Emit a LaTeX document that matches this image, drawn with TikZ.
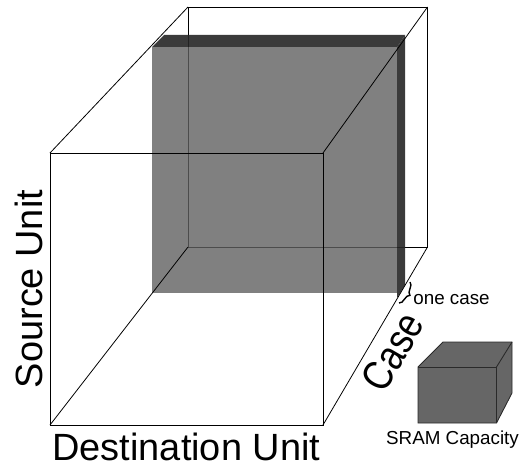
\documentclass[tikz,border=0pt]{standalone}
\usepackage{xcolor}
\usepackage{graphicx}
\usepackage{fontspec}
\setmainfont{Liberation Sans}
\usetikzlibrary{decorations.pathreplacing}
\definecolor{slicegray}{HTML}{606060}
\definecolor{edgegray}{HTML}{2A2A2A}
\definecolor{boxgray}{HTML}{666666}
\tikzset{
  wire/.style={draw=black, line width=0.45pt},
  biglabel/.style={inner sep=0pt, font=\fontsize{21.6}{24}\selectfont},
  smalllabel/.style={inner sep=0pt, font=\fontsize{10.7}{12}\selectfont}
}

\begin{document}
\begin{tikzpicture}[x=0.02cm, y=-0.02cm]
  \useasboundingbox (0,0) rectangle (520,466);

  % Corners of the large cube
  \coordinate (ftl) at (50,153);
  \coordinate (ftr) at (323,153);
  \coordinate (fbl) at (50,425);
  \coordinate (fbr) at (323,425);
  \coordinate (btl) at (188,7);
  \coordinate (btr) at (427.5,7);
  \coordinate (bbl) at (188,247);
  \coordinate (bbr) at (427.5,247);

  % Back edges
  \draw[wire] (bbl) -- (btl) -- (btr) -- (bbr) -- cycle;

  % Shaded slice
  \fill[slicegray, fill opacity=0.8] (152,47) rectangle (397,293);
  \fill[black!85, fill opacity=0.9] (152,47) -- (164,35) -- (405,35) -- (397,47) -- cycle;
  \fill[black!85, fill opacity=0.9] (397,47) -- (405,35) -- (405,285) -- (397,298) -- cycle;

  % Front edges
  \draw[wire] (ftl) rectangle (fbr);
  \draw[wire] (ftl) -- (btl);
  \draw[wire] (ftr) -- (btr);
  \draw[wire] (fbl) -- (bbl);
  \draw[wire] (fbr) -- (bbr);

  % Axis labels
  \node[biglabel, anchor=base west] (destlabel) at (52,460) {Destination Unit};
  \node[biglabel, anchor=base, rotate=90] (srclabel) at (42,289) {Source Unit};
  \node[inner sep=0pt, font=\fontsize{20}{24}\selectfont, rotate=60] (caselabel) at (392.5,352) {\scalebox{1}[1.2]{Case}};

  % One case
  \coordinate (bracetop) at (410,282);
  \coordinate (bracebot) at (399,303);
  \draw[decorate, decoration={brace, amplitude=3.5pt}, line width=0.8pt] (bracetop) -- (bracebot);
  \node[smalllabel, anchor=base west] (onelabel) at (413,304) {one case};

  % SRAM box
  \filldraw[fill=boxgray, draw=edgegray, line width=0.5pt]
    (418,367) -- (443,342) -- (512,342) -- (512,393) -- (496.5,423) -- (418,423) -- cycle;
  \draw[draw=edgegray, line width=0.5pt] (418,367) -- (496.5,367) -- (496.5,423);
  \draw[draw=edgegray, line width=0.5pt] (496.5,367) -- (512,342);
  \node[smalllabel, anchor=base] (sramlabel) at (452.5,444) {SRAM Capacity};
\end{tikzpicture}
\end{document}
